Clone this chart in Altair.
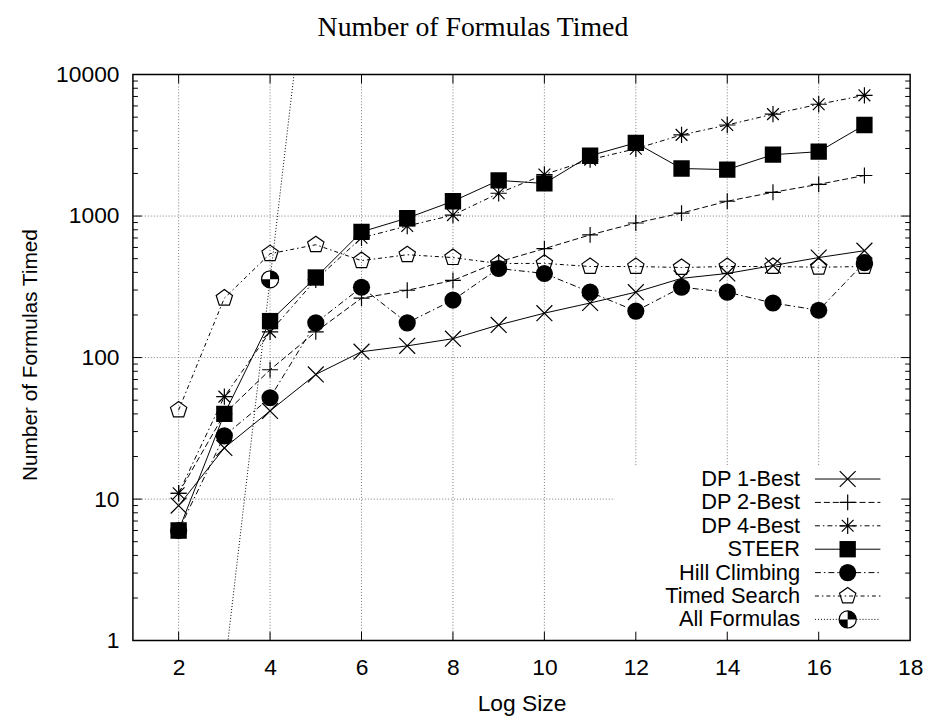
import altair as alt
import pandas as pd

# ---------------- data ----------------
log_size = list(range(2, 18))
dp1_best = [9, 23, 42, 76, 110, 121, 136, 170, 206, 243, 290, 363, 393, 447, 509, 569]
dp2_best = [11, 40, 82, 152, 263, 299, 351, 475, 588, 736, 893, 1050, 1273, 1472, 1675, 1935]
dp4_best = [11, 53, 152, 355, 702, 851, 1016, 1449, 1967, 2505, 2990, 3745, 4400, 5250, 6170, 7130]
steer = [6, 40, 181, 368, 773, 968, 1273, 1786, 1700, 2670, 3290, 2167, 2130, 2715, 2850, 4400]
hill_climbing = [6, 28, 52, 176, 314, 176, 255, 426, 393, 290, 213, 314, 290, 243, 216, 469]
timed_search = [42.6, 263, 542, 627, 484, 533, 509, 462, 463, 440, 440, 433, 440, 440, 435, 440]
all_formulas_x = [3, 4, 5]
all_formulas = [0.6, 357, 210000]

series_names = ["DP 1-Best", "DP 2-Best", "DP 4-Best", "STEER",
                "Hill Climbing", "Timed Search", "All Formulas"]

x_ticks = list(range(2, 19, 2))
x_grid = list(range(2, 17, 2))
y_ticks = [1, 10, 100, 1000, 10000]
y_grid = [10, 100, 1000]
y_minor = [m * d for d in [1, 10, 100, 1000] for m in range(2, 10)]

title_text = "Number of Formulas Timed"
x_title = "Log Size"
y_title = "Number of Formulas Timed"

# ---------------- layout / style ----------------
W, H = 784, 571
FONT = "Liberation Sans"
FS = 23
LFS = 22

xs = alt.Scale(domain=[1, 18], nice=False, zero=False)
ys = alt.Scale(type="log", domain=[1, 10000], nice=False)

x_axis = alt.Axis(values=x_ticks, grid=False, ticks=False, tickSize=0, domain=False,
                  labelFont=FONT, labelFontSize=FS, labelColor="black",
                  labelBaseline="alphabetic", labelPadding=34, labelFlush=False,
                  labelOverlap=False, format="d",
                  title=x_title, titleFont=FONT, titleFontSize=FS, titleFontWeight="normal",
                  titleColor="black", titleBaseline="alphabetic", titleY=70)
y_axis = alt.Axis(values=y_ticks, grid=False, ticks=False, tickSize=0, domain=False,
                  labelFont=FONT, labelFontSize=FS, labelColor="black",
                  labelBaseline="middle", labelAlign="right", labelPadding=14,
                  labelFlush=False, labelOverlap=False, format="d",
                  title=y_title, titleFont=FONT, titleFontSize=21, titleFontWeight="normal",
                  titleColor="black", titleAngle=270, titleBaseline="middle",
                  titleAlign="center", titleX=-103, titleY=H / 2 - 3)


def XE(field):
    return alt.X(field, type="quantitative", scale=xs, axis=x_axis)


def YE(field):
    return alt.Y(field, type="quantitative", scale=ys, axis=y_axis)


X_PATH = "M-1,-1L1,1M-1,1L1,-1"
PLUS_PATH = "M-1,0L1,0M0,-1L0,1"
STAR_PATH = PLUS_PATH + "M-0.72,-0.72L0.72,0.72M-0.72,0.72L0.72,-0.72"
PENT_PATH = "M0,-1L0.951,-0.309L0.588,0.809L-0.588,0.809L-0.951,-0.309Z"
QUAD_PATH = "M0,0L0,-1A1,1,0,0,1,1,0ZM0,0L0,1A1,1,0,0,1,-1,0Z"

# marker spec: (shape, size, fill, stroke)
styles = {
    "DP 1-Best": (None, [(X_PATH, 256, None, "black")]),
    "DP 2-Best": ([6, 3], [(PLUS_PATH, 256, None, "black")]),
    "DP 4-Best": ([5, 3, 1.5, 3], [(STAR_PATH, 272, None, "black")]),
    "STEER": (None, [("square", 272, "black", None)]),
    "Hill Climbing": ([6, 3, 1.5, 3], [("circle", 300, "black", None)]),
    "Timed Search": ([4, 3, 1.5, 3], [(PENT_PATH, 300, None, "black")]),
    "All Formulas": ([1, 2], [("circle", 300, "white", "black"), (QUAD_PATH, 300, "black", None)]),
}

series_data = {
    "DP 1-Best": (log_size, dp1_best),
    "DP 2-Best": (log_size, dp2_best),
    "DP 4-Best": (log_size, dp4_best),
    "STEER": (log_size, steer),
    "Hill Climbing": (log_size, hill_climbing),
    "Timed Search": (log_size, timed_search),
    "All Formulas": (all_formulas_x, all_formulas),
}


def point_mark(shape, size, fill, stroke, clip):
    kw = dict(shape=shape, size=size, opacity=1, strokeWidth=1.2, clip=clip)
    if fill is not None:
        kw["filled"] = True
        kw["fill"] = fill
        if stroke is not None:
            kw["stroke"] = stroke
        else:
            kw["strokeWidth"] = 0
    else:
        kw["filled"] = False
        kw["stroke"] = stroke
    return kw


dummy = pd.DataFrame({"a": [0]})
layers = []

# grid
gx = pd.DataFrame({"x": x_grid})
gy = pd.DataFrame({"y": y_grid})
grid_style = dict(color="#7a7a7a", strokeWidth=1, strokeDash=[1, 2])
layers.append(alt.Chart(gx).mark_rule(**grid_style).encode(
    x=XE("x"), y=alt.value(0), y2=alt.value(H)))
layers.append(alt.Chart(gy).mark_rule(**grid_style).encode(
    y=YE("y"), x=alt.value(0), x2=alt.value(W)))

# opaque key area
layers.append(alt.Chart(dummy).mark_rect(fill="white", strokeWidth=0).encode(
    x=alt.value(486), x2=alt.value(W - 1), y=alt.value(395), y2=alt.value(H - 1)))

# inward ticks
tick_style = dict(color="black", strokeWidth=1)
txd = pd.DataFrame({"x": x_grid})
layers.append(alt.Chart(txd).mark_rule(**tick_style).encode(
    x=XE("x"), y=alt.value(H), y2=alt.value(H - 9)))
layers.append(alt.Chart(txd).mark_rule(**tick_style).encode(
    x=XE("x"), y=alt.value(0), y2=alt.value(9)))
tyd = pd.DataFrame({"y": y_grid})
tymd = pd.DataFrame({"y": y_minor})
for x0, x1 in [(0, 9), (W, W - 9)]:
    layers.append(alt.Chart(tyd).mark_rule(**tick_style).encode(
        y=YE("y"), x=alt.value(x0), x2=alt.value(x1)))
for x0, x1 in [(0, 5), (W, W - 5)]:
    layers.append(alt.Chart(tymd).mark_rule(**tick_style).encode(
        y=YE("y"), x=alt.value(x0), x2=alt.value(x1)))

# data series
for name in series_names:
    xv, yv = series_data[name]
    df = pd.DataFrame({"x": xv, "y": yv, "series": name})
    dash, markers = styles[name]
    lk = dict(color="black", strokeWidth=1, clip=True)
    if dash is not None:
        lk["strokeDash"] = dash
    layers.append(alt.Chart(df).mark_line(**lk).encode(x=XE("x"), y=YE("y")))
    for shape, size, fill, stroke in markers:
        layers.append(alt.Chart(df).mark_point(**point_mark(shape, size, fill, stroke, True)).encode(
            x=XE("x"), y=YE("y")))

# key
LEG_Y0, LEG_DY = 408, 23.6
for i, name in enumerate(series_names):
    ry = LEG_Y0 + i * LEG_DY
    d = pd.DataFrame({"series": [name]})
    dash, markers = styles[name]
    layers.append(alt.Chart(d).mark_text(align="right", baseline="middle", font=FONT,
                                         fontSize=LFS, color="black").encode(
        text="series:N", x=alt.value(673), y=alt.value(ry)))
    rk = dict(color="black", strokeWidth=1)
    if dash is not None:
        rk["strokeDash"] = dash
    layers.append(alt.Chart(d).mark_rule(**rk).encode(
        x=alt.value(688), x2=alt.value(754), y=alt.value(ry)))
    for shape, size, fill, stroke in markers:
        layers.append(alt.Chart(d).mark_point(**point_mark(shape, size, fill, stroke, False)).encode(
            x=alt.value(721), y=alt.value(ry)))

# chart title (drawn as text above the plot)
tdf = pd.DataFrame({"t": [title_text]})
layers.append(alt.Chart(tdf).mark_text(align="center", baseline="alphabetic",
                                       font="Liberation Serif", fontSize=28,
                                       color="black").encode(
    text="t:N", x=alt.value(343), y=alt.value(-39)))

# border
layers.append(alt.Chart(dummy).mark_rect(fillOpacity=0, stroke="black", strokeWidth=1.5).encode(
    x=alt.value(0), x2=alt.value(W), y=alt.value(0), y2=alt.value(H)))

chart = alt.layer(*layers).properties(
    width=W, height=H,
    autosize=alt.AutoSizeParams(type="none"),
    padding={"left": 126, "top": 64, "right": 16, "bottom": 82},
    background="white",
).configure_view(stroke=None)

chart.save("out.html", embed_options={"renderer": "svg", "actions": False})
